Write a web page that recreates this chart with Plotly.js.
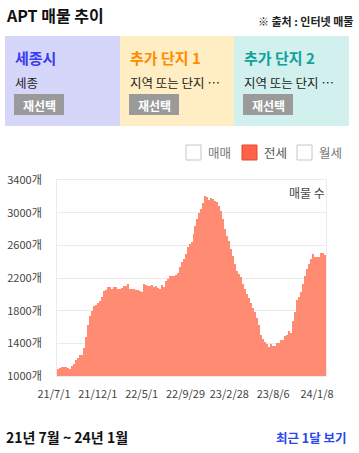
<!DOCTYPE html>
<html>
<head>
<meta charset="utf-8">
<script src="https://cdn.plot.ly/plotly-3.0.1.min.js"></script>
<style>
html,body{margin:0;padding:0;background:#fff;}
#chart{width:359px;height:453px;}
</style>
</head>
<body>
<div id="chart"></div>
<script>
// ---- data ----
const tickLabels = ['21/7/1','21/12/1','22/5/1','22/9/29','23/2/28','23/8/6','24/1/8'];
const tickIndex = [0, 22, 44, 66, 88, 110, 132];
const yTickValues = [1000, 1400, 1800, 2200, 2600, 3000, 3400];
const yTickLabels = ['1000개', '1400개', '1800개', '2200개', '2600개', '3000개', '3400개'];
const listingCounts = [
  1080,1104,1116,1116,1116,1095,1083,1125,1153,1195,
  1225,1263,1263,1345,1475,1626,1732,1801,1854,1870,
  1895,1923,1964,2037,2058,2086,2094,2066,2090,2094,
  2066,2066,2080,2107,2100,2123,2066,2060,2060,2050,
  2050,2040,2025,2123,2120,2105,2100,2110,2095,2100,
  2080,2060,2110,2090,2160,2190,2229,2225,2225,2241,
  2260,2340,2400,2433,2494,2575,2617,2637,2739,2841,
  2923,2990,3045,3120,3208,3190,3158,3183,3167,3147,
  3134,3085,3024,2923,2800,2718,2657,2555,2474,2372,
  2290,2250,2209,2128,2060,2000,1950,1891,1834,1781,
  1712,1630,1508,1455,1414,1393,1360,1393,1373,1373,
  1401,1401,1443,1443,1495,1508,1548,1524,1671,1781,
  1931,1964,2025,2128,2229,2311,2372,2433,2494,2454,
  2454,2454,2503,2503,2486
];
const legendNames = ['매매', '전세', '월세'];
const panelTitles = ['세종시', '추가 단지 1', '추가 단지 2'];
const panelSubs = ['세종', '지역 또는 단지 …', '지역 또는 단지 …'];

// ---- layout helpers (pixel -> paper) ----
const W = 359, H = 453;
const M = {l: 57, r: 33, t: 180, b: 77};
const PW = W - M.l - M.r, PH = H - M.t - M.b;
const px = x => (x - M.l) / PW;
const py = y => 1 - (y - M.t) / PH;
const FONT = '"Noto Sans CJK KR", "Noto Sans", sans-serif';

const shapes = [];
const annotations = [];
function rect(x0, y0, x1, y1, fill, line, lw) {
  shapes.push({type: 'rect', xref: 'paper', yref: 'paper', layer: 'above',
    x0: px(x0), x1: px(x1), y0: py(y1), y1: py(y0),
    fillcolor: fill, line: {color: line || fill, width: lw || 0}});
}
function text(t, x, y, size, color, anchor, weight) {
  annotations.push({text: t, xref: 'paper', yref: 'paper', x: px(x), y: py(y),
    xanchor: anchor || 'left', yanchor: 'middle', showarrow: false,
    font: {family: FONT, size: size, color: color, weight: weight || 'normal'}});
}

// header
text('APT 매물 추이', 4, 15, 16, '#111', 'left', 'bold');
text('※ 출처 : 인터넷 매물', 355, 21, 11, '#222', 'right', 'bold');

// panels
const panelX = [5, 120, 234, 349];
const panelFill = ['#d6d6fa', '#ffedc3', '#d2f1ee'];
const panelTitleColor = ['#3a3af0', '#ff8c00', '#11a09a'];
for (let k = 0; k < 3; k++) {
  const x0 = panelX[k];
  rect(x0, 36, panelX[k + 1], 126, panelFill[k]);
  text(panelTitles[k], x0 + 8, 57, 15, panelTitleColor[k], 'left', 'bold');
  text(panelSubs[k], x0 + 8, 82, 12.5, '#222', 'left', 'normal');
  rect(x0 + 9, 94, x0 + 59, 115, '#9a9a9a');
  text('재선택', x0 + 34, 105, 12, '#ffffff', 'center', 'bold');
}

// legend (checkbox style)
const legX = [186, 242, 297];
for (let k = 0; k < 3; k++) {
  const on = k === 1;
  rect(legX[k], 145, legX[k] + 15, 160, on ? '#ff6347' : '#ffffff', on ? '#e0492e' : '#c4c6cc', 1);
  text(legendNames[k], legX[k] + 20, 152.5, 12.5, on ? '#555' : '#777', 'left', 'normal');
}

// in-plot label
text('매물 수', 327, 192, 12, '#444', 'right', 'normal');

// footer
text('21년 7월 ~ 24년 1월', 4, 437, 14, '#111', 'left', 'bold');
text('최근 1달 보기', 349, 437, 12.5, '#2a48ee', 'right', 'bold');

const trace = {
  type: 'bar',
  x: listingCounts.map((_, i) => i),
  y: listingCounts,
  marker: {color: '#ff8b72', line: {width: 0}},
  hoverinfo: 'skip',
  showlegend: false
};

const layout = {
  width: W, height: H,
  margin: M,
  paper_bgcolor: '#ffffff',
  plot_bgcolor: '#ffffff',
  bargap: 0,
  showlegend: false,
  font: {family: FONT, color: '#444', size: 11},
  xaxis: {
    type: 'linear',
    range: [-0.5, listingCounts.length - 0.5],
    tickvals: tickIndex,
    ticktext: tickLabels,
    ticks: '',
    showgrid: false,
    zeroline: false,
    showline: true, mirror: true, linecolor: '#ebebeb', linewidth: 1,
    ticklabelshift: -4,
    ticklabelstandoff: 8,
    tickfont: {family: FONT, size: 11, color: '#444'},
    fixedrange: true
  },
  yaxis: {
    range: [1000, 3400],
    tickvals: yTickValues,
    ticktext: yTickLabels,
    ticks: '',
    showgrid: true, gridcolor: '#ebebeb',
    zeroline: false,
    showline: true, mirror: true, linecolor: '#ebebeb', linewidth: 1,
    ticklabelstandoff: 12,
    tickfont: {family: FONT, size: 11, color: '#444'},
    fixedrange: true
  },
  shapes: shapes,
  annotations: annotations
};

Plotly.newPlot('chart', [trace], layout, {displayModeBar: false, staticPlot: true});
</script>
</body>
</html>
